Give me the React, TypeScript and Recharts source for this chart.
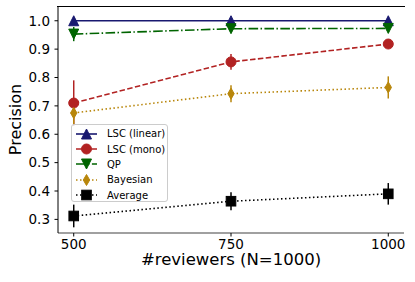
import { LineChart, Line, XAxis, YAxis, ErrorBar } from "recharts";

const reviewers = [500, 750, 1000];
const lscLinear = [1.0, 1.0, 1.0];
const lscLinearErr = [0, 0, 0];
const lscMono = [0.71, 0.855, 0.918];
const lscMonoErr = [0.08, 0.028, 0.01];
const qp = [0.953, 0.972, 0.973];
const qpErr = [0.025, 0.006, 0.006];
const bayesian = [0.675, 0.743, 0.765];
const bayesianErr = [0.04, 0.03, 0.039];
const average = [0.312, 0.364, 0.39];
const averageErr = [0.04, 0.032, 0.038];

const xTicks = [500, 750, 1000];
const yTicks = [0.3, 0.4, 0.5, 0.6, 0.7, 0.8, 0.9, 1.0];
const xDomain = [475, 1025];
const yDomain = [0.252, 1.052];

const data = reviewers.map((r, i) => ({
  reviewers: r,
  lscLinear: lscLinear[i],
  lscLinearErr: lscLinearErr[i],
  lscMono: lscMono[i],
  lscMonoErr: lscMonoErr[i],
  qp: qp[i],
  qpErr: qpErr[i],
  bayesian: bayesian[i],
  bayesianErr: bayesianErr[i],
  average: average[i],
  averageErr: averageErr[i],
}));

type Shape = "triUp" | "circle" | "triDown" | "diamond" | "square";

const series: { key: string; name: string; color: string; dash?: string; shape: Shape }[] = [
  { key: "lscLinear", name: "LSC (linear)", color: "#191970", shape: "triUp" },
  { key: "lscMono", name: "LSC (mono)", color: "#b22222", dash: "5.5 2.4", shape: "circle" },
  { key: "qp", name: "QP", color: "#006400", dash: "9.6 2.4 1.5 2.4", shape: "triDown" },
  { key: "bayesian", name: "Bayesian", color: "#b8860b", dash: "1.5 2.5", shape: "diamond" },
  { key: "average", name: "Average", color: "#000000", dash: "1.5 2.5", shape: "square" },
];

const font = "DejaVu Sans, sans-serif";

function marker(shape: Shape, cx: number, cy: number, color: string, key?: string | number) {
  switch (shape) {
    case "circle":
      return <circle key={key} cx={cx} cy={cy} r={5} fill={color} stroke={color} />;
    case "triUp":
      return (
        <path key={key} d={`M${cx},${cy - 5}L${cx - 5},${cy + 5}L${cx + 5},${cy + 5}Z`} fill={color} stroke={color} />
      );
    case "triDown":
      return (
        <path key={key} d={`M${cx},${cy + 5}L${cx - 5},${cy - 5}L${cx + 5},${cy - 5}Z`} fill={color} stroke={color} />
      );
    case "diamond":
      return (
        <path
          key={key}
          d={`M${cx},${cy - 5.5}L${cx + 3.2},${cy}L${cx},${cy + 5.5}L${cx - 3.2},${cy}Z`}
          fill={color}
          stroke={color}
        />
      );
    default:
      return <rect key={key} x={cx - 4.8} y={cy - 4.8} width={9.6} height={9.6} fill={color} stroke={color} />;
  }
}

function LegendBox() {
  return (
    <div
      style={{
        position: "absolute",
        left: 71,
        top: 124,
        width: 97,
        height: 78,
        border: "1px solid #cccccc",
        borderRadius: 3,
        background: "rgba(255,255,255,0.8)",
        fontFamily: font,
        fontSize: 10,
        boxSizing: "border-box",
        paddingTop: 1,
      }}
    >
      {series.map((s) => (
        <div key={s.key} style={{ display: "flex", alignItems: "center", height: 15.4 }}>
          <svg width={30} height={14} style={{ marginLeft: 3 }}>
            <line x1={1} y1={7} x2={22} y2={7} stroke={s.color} strokeWidth={1.6} strokeDasharray={s.dash} />
            {marker(s.shape, 11.5, 7, s.color)}
          </svg>
          <span style={{ marginLeft: 2, color: "#000" }}>{s.name}</span>
        </div>
      ))}
    </div>
  );
}

export default function App() {
  return (
    <div style={{ position: "absolute", left: 0, top: 0, width: 415, height: 282, background: "#fff" }}>
      {/* top spine, drawn under the chart's transparent svg */}
      <div style={{ position: "absolute", left: 57, top: 6, width: 348, height: 1, background: "#000" }} />
      <div style={{ position: "absolute", left: 0, top: 0 }}>
        <LineChart width={415} height={282} data={data} margin={{ top: 6, right: 11, bottom: 0, left: 0 }}>
          <XAxis
            dataKey="reviewers"
            type="number"
            domain={xDomain}
            ticks={xTicks}
            height={49}
            tickSize={3.5}
            tickMargin={3}
            tick={{ fontSize: 13.5, fontFamily: font, fill: "#000" }}
            tickLine={{ stroke: "#000" }}
            axisLine={{ stroke: "#808080", strokeWidth: 1.5 }}
            label={{
              content: (props: any) => {
                const vb = props.viewBox;
                return (
                  <text
                    x={vb.x + vb.width / 2}
                    y={vb.y + 26}
                    textAnchor="middle"
                    dominantBaseline="central"
                    fontSize={16.5}
                    fontFamily={font}
                    fill="#000"
                  >
                    #reviewers (N=1000)
                  </text>
                );
              },
            }}
          />
          <YAxis
            domain={yDomain}
            ticks={yTicks}
            width={58}
            tickSize={3.5}
            tickMargin={4.5}
            tickFormatter={(v: number) => v.toFixed(1)}
            tick={{ fontSize: 13.5, fontFamily: font, fill: "#000" }}
            tickLine={{ stroke: "#000" }}
            axisLine={{ stroke: "#000", strokeWidth: 1 }}
            label={{
              content: (props: any) => {
                const vb = props.viewBox;
                const x = 15;
                const y = vb.y + vb.height / 2;
                return (
                  <text
                    x={x}
                    y={y}
                    transform={`rotate(-90 ${x} ${y})`}
                    textAnchor="middle"
                    dominantBaseline="central"
                    fontSize={16}
                    fontFamily={font}
                    fill="#000"
                  >
                    Precision
                  </text>
                );
              },
            }}
          />
          <YAxis
            yAxisId="right"
            orientation="right"
            domain={yDomain}
            width={0}
            tick={false}
            tickLine={false}
            axisLine={{ stroke: "#808080", strokeWidth: 1.5 }}
          />
          {series.map((s) => (
            <Line
              key={s.key}
              dataKey={s.key}
              name={s.name}
              stroke={s.color}
              strokeWidth={1.6}
              strokeDasharray={s.dash}
              isAnimationActive={false}
              dot={(p: any) => marker(s.shape, p.cx, p.cy, s.color, p.index)}
              activeDot={false}
            >
              <ErrorBar dataKey={`${s.key}Err`} width={0} stroke={s.color} strokeWidth={1.5} direction="y" />
            </Line>
          ))}
        </LineChart>
      </div>
      <div style={{ position: "absolute", left: 57, top: 6, width: 348, height: 1, background: "#000", zIndex: 10 }} />
      <LegendBox />
    </div>
  );
}
